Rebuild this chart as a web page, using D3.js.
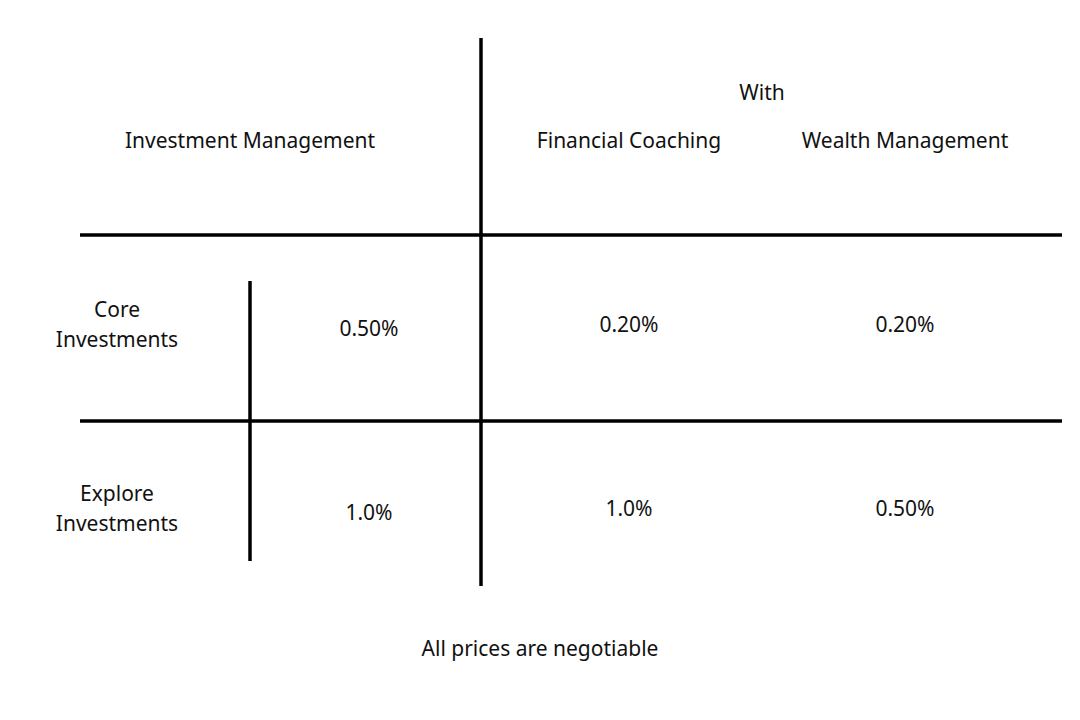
<!DOCTYPE html>
<html>
<head>
<meta charset="utf-8">
<script src="https://cdn.jsdelivr.net/npm/d3@7"></script>
<style>
  body { margin: 0; background: #fff; }
  text { font-family: "Noto Sans", sans-serif; font-size: 21px; fill: #111; }
</style>
</head>
<body>
<div id="canvas"></div>
<script>
const columns = ["Investment Management", "Financial Coaching", "Wealth Management"];
const groupLabel = "With";
const rows = ["Core\nInvestments", "Explore\nInvestments"];
const values = [
  ["0.50%", "0.20%", "0.20%"],
  ["1.0%", "1.0%", "0.50%"]
];
const footer = "All prices are negotiable";

const width = 1080, height = 720;
const svg = d3.select("#canvas").append("svg")
  .attr("width", width).attr("height", height);

// column centres and row centres
const x = d3.scaleOrdinal().domain(columns).range([250, 629, 905]);
const xVal = d3.scaleOrdinal().domain(columns).range([369, 629, 905]);
const yVal = d3.scaleOrdinal().domain(columns).range([4, 0, 0]);
const y = d3.scaleOrdinal().domain(rows).range([326, 510]);

const lineW = 3.5;
const lines = [
  [80, 235, 1062, 235],
  [80, 421, 1062, 421],
  [481, 38, 481, 586],
  [250, 281, 250, 561]
];
svg.selectAll("line").data(lines).enter().append("line")
  .attr("x1", d => d[0]).attr("y1", d => d[1])
  .attr("x2", d => d[2]).attr("y2", d => d[3])
  .attr("stroke", "#000").attr("stroke-width", lineW);

svg.append("text").attr("x", 762).attr("y", 94)
  .attr("text-anchor", "middle").attr("dominant-baseline", "middle").text(groupLabel);

svg.selectAll("text.col").data(columns).enter().append("text")
  .attr("class", "col")
  .attr("x", d => x(d)).attr("y", 142)
  .attr("text-anchor", "middle").attr("dominant-baseline", "middle")
  .text(d => d);

rows.forEach((r, i) => {
  const parts = r.split("\n");
  svg.selectAll(null).data(parts).enter().append("text")
    .attr("x", 117)
    .attr("y", (d, k) => y(r) - 15 + k * 30)
    .attr("text-anchor", "middle").attr("dominant-baseline", "middle")
    .text(d => d);
  svg.selectAll(null).data(values[i]).enter().append("text")
    .attr("x", (d, j) => xVal(columns[j]))
    .attr("y", (d, j) => y(r) + yVal(columns[j]))
    .attr("text-anchor", "middle").attr("dominant-baseline", "middle")
    .text(d => d);
});

svg.append("text").attr("x", 540).attr("y", 650)
  .attr("text-anchor", "middle").attr("dominant-baseline", "middle").text(footer);
</script>
</body>
</html>
